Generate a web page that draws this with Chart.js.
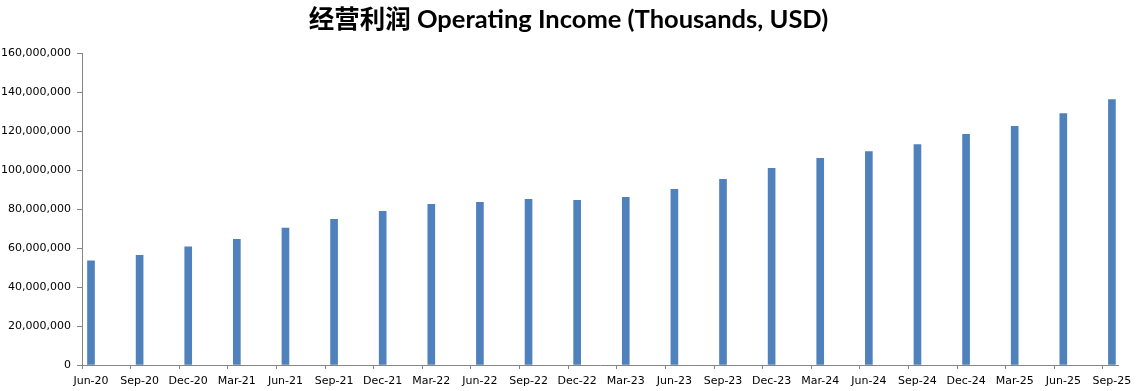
<!DOCTYPE html>
<html>
<head>
<meta charset="utf-8">
<script src="https://cdn.jsdelivr.net/npm/chart.js@4"></script>
<style>
  html, body { margin: 0; padding: 0; background: #fff; }
  #wrap { width: 1137px; height: 391px; position: relative; }
</style>
</head>
<body>
<div id="wrap"><canvas id="c"></canvas></div>
<script>
const categories = ["Jun-20","Sep-20","Dec-20","Mar-21","Jun-21","Sep-21","Dec-21","Mar-22","Jun-22","Sep-22","Dec-22","Mar-23","Jun-23","Sep-23","Dec-23","Mar-24","Jun-24","Sep-24","Dec-24","Mar-25","Jun-25","Sep-25"];
const operatingIncome = [53500000, 56400000, 60700000, 64600000, 70300000, 74900000, 79000000, 82600000, 83600000, 85100000, 84600000, 86200000, 90300000, 95400000, 101000000, 106200000, 109700000, 113300000, 118500000, 122600000, 129200000, 136400000];
const yTicks = [0, 20000000, 40000000, 60000000, 80000000, 100000000, 120000000, 140000000, 160000000];
const titleText = "经营利润 Operating Income (Thousands, USD)";

const TICK_SHIFT = 0.185;
const axisColor = "#868686";
const tickFont = { family: "'DejaVu Sans', Verdana, sans-serif", size: 11 };

new Chart(document.getElementById('c'), {
  type: 'bar',
  data: {
    datasets: [{
      data: operatingIncome.map((v, i) => ({ x: i, y: v })),
      backgroundColor: '#4F81BD',
      borderWidth: 0,
      barThickness: 7
    }]
  },
  options: {
    responsive: true,
    maintainAspectRatio: false,
    animation: false,
    layout: { padding: { left: 0, right: 0, top: 4, bottom: 0 } },
    plugins: {
      legend: { display: false },
      tooltip: { enabled: false },
      title: {
        display: true,
        text: titleText,
        color: '#000',
        font: { family: "Lato, 'Noto Sans CJK SC', sans-serif", size: 25.5, weight: 'bold' },
        padding: { top: 0, bottom: 19 }
      }
    },
    scales: {
      x: {
        type: 'linear',
        offset: false,
        min: -TICK_SHIFT,
        max: 21.125,
        afterBuildTicks: (scale) => {
          scale.ticks = categories.map((_, i) => ({ value: i - TICK_SHIFT }));
        },
        afterFit: (scale) => { scale.height = 26; },
        ticks: {
          autoSkip: false,
          maxRotation: 0,
          minRotation: 0,
          labelOffset: 9,
          padding: 6,
          color: '#000',
          font: tickFont,
          callback: (value, index) => categories[index]
        },
        grid: {
          offset: false,
          drawOnChartArea: false,
          drawTicks: true,
          tickLength: 4,
          color: axisColor
        },
        border: { display: true, color: axisColor, width: 1 }
      },
      y: {
        min: 0,
        max: 160000000,
        afterBuildTicks: (scale) => {
          scale.ticks = yTicks.map(v => ({ value: v }));
        },
        afterFit: (scale) => { scale.width = 82; },
        ticks: {
          color: '#000',
          font: tickFont,
          padding: 6,
          callback: (v) => v.toLocaleString('en-US')
        },
        grid: {
          drawOnChartArea: false,
          drawTicks: true,
          tickLength: 5,
          color: axisColor
        },
        border: { display: true, color: axisColor, width: 1 }
      },
      yRight: {
        position: 'right',
        display: true,
        min: 0,
        max: 160000000,
        afterFit: (scale) => { scale.width = 19; },
        ticks: { display: false },
        grid: { display: false, drawTicks: false },
        border: { display: false }
      }
    }
  }
});
</script>
</body>
</html>
